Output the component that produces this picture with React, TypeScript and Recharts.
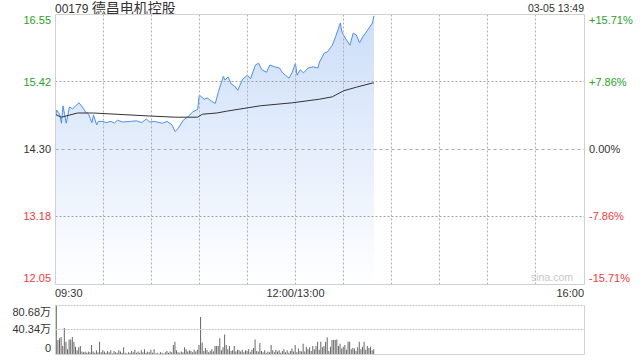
import { ComposedChart, Area, Line, Bar, XAxis, YAxis, ReferenceLine } from 'recharts'

const GREEN = '#27a327'
const RED = '#f23a3a'
const FONT = '"Liberation Sans", Arial, "Noto Sans CJK SC", sans-serif'

const prevClose = 14.3
const priceTicks = [12.05, 13.18, 14.3, 15.42, 16.55]
const pctLabels = ['-15.71%', '-7.86%', '0.00%', '+7.86%', '+15.71%']
const timeTicks = [0, 150, 330]
const timeLabels = ['09:30', '12:00/13:00', '16:00']
const gridMinutes = [30, 60, 90, 120, 150, 180, 210, 240, 270, 300]
const gridPrices = [13.18, 15.42]

// minute since open (lunch break removed) and last price
const priceMinutes = [0, 1, 3, 4, 5, 6, 7, 9, 11, 13, 15, 17, 19, 21, 23, 24, 26, 27, 30, 32, 35, 37, 39, 42, 47, 51, 54, 57, 59, 62, 67, 70, 73, 75, 77, 80, 83, 86, 89, 90, 93, 95, 98, 100, 102, 105, 106, 108, 110, 112, 114, 117, 120, 122, 125, 127, 129, 132, 134, 137, 140, 142, 146, 148, 150, 151, 153, 155, 158, 161, 164, 165, 168, 170, 173, 175, 178, 179, 181, 184, 186, 188, 190, 192, 195, 198, 199]
const prices = [14.78, 14.95, 14.87, 14.73, 15.02, 14.87, 14.73, 15.0, 14.97, 15.02, 15.07, 15.0, 14.92, 14.88, 14.74, 14.87, 14.7, 14.76, 14.76, 14.74, 14.76, 14.73, 14.78, 14.75, 14.76, 14.77, 14.74, 14.8, 14.75, 14.76, 14.73, 14.76, 14.7, 14.59, 14.65, 14.78, 14.84, 14.92, 14.96, 15.2, 15.13, 15.15, 15.09, 15.06, 15.26, 15.51, 15.45, 15.5, 15.38, 15.35, 15.28, 15.46, 15.53, 15.47, 15.7, 15.73, 15.62, 15.58, 15.7, 15.67, 15.65, 15.57, 15.48, 15.58, 15.73, 15.53, 15.62, 15.57, 15.65, 15.67, 15.65, 15.75, 15.9, 15.92, 16.03, 16.17, 16.4, 16.25, 16.15, 16.03, 16.23, 16.2, 16.07, 16.17, 16.28, 16.4, 16.52]

const avgMinutes = [0, 4, 14, 24, 59, 75, 89, 92, 101, 107, 128, 148, 165, 173, 180, 188, 198, 199]
const avgPrices = [14.88, 14.83, 14.9, 14.9, 14.85, 14.83, 14.83, 14.88, 14.9, 14.93, 15.02, 15.07, 15.13, 15.17, 15.27, 15.33, 15.4, 15.4]

// volume per minute, in 万
const volumes = [
  28, 80.68, 23, 26, 28, 13, 43, 20, 8, 24, 24, 28, 20, 12, 6, 11, 13, 4, 3, 4,
  2, 4, 3, 15, 4, 2, 6, 3, 20, 3, 6, 4, 2, 5, 3, 6, 1, 5, 3, 2,
  6, 4, 2, 11, 2, 1, 3, 2, 5, 3, 7, 2, 4, 2, 6, 3, 8, 2, 4, 3,
  7, 2, 8, 1, 2, 1, 3, 2, 1, 3, 5, 2, 4, 3, 15, 20, 6, 3, 2, 4,
  3, 11, 8, 4, 6, 5, 3, 7, 4, 7, 15, 61, 19, 5, 10, 6, 3, 5, 8, 4,
  13, 13, 13, 26, 6, 11, 32, 15, 8, 13, 5, 6, 13, 4, 7, 6, 4, 7, 3, 6,
  5, 8, 3, 7, 10, 24, 5, 4, 18, 5, 3, 6, 2, 4, 3, 15, 6, 3, 7, 4,
  6, 2, 5, 8, 3, 6, 2, 5, 9, 4, 15, 3, 9, 5, 4, 17, 4, 12, 8, 11,
  5, 13, 8, 13, 20, 7, 20, 11, 13, 20, 27, 5, 12, 23, 23, 23, 24, 13, 17, 9,
  12, 15, 7, 20, 20, 8, 10, 9, 5, 11, 20, 8, 12, 20, 7, 13, 10, 12, 6, 8,
]
const volTicks = [0, 40.34, 80.68]
const volLabels = ['0', '40.34万', '80.68万']

const priceData = priceMinutes.map((m, i) => ({ m, p: prices[i] }))
const avgData = avgMinutes.map((m, i) => ({ m, a: avgPrices[i] }))
const volData = volumes.map((v, m) => ({ m, v }))

const pMin = priceTicks[0]
const pMax = priceTicks[priceTicks.length - 1]
const vMax = volTicks[volTicks.length - 1]

function colorOf(v: number) {
  if (v > prevClose + 0.001) return GREEN
  if (v < prevClose - 0.001) return RED
  return '#333'
}

function edgeShift(v: number, lo: number, hi: number, up: number, down: number) {
  if (v === hi) return up
  if (v === lo) return down
  return 0
}

// snap reference lines onto the pixel grid so dotted lines stay sharp
const snap = (n: number) => Math.round(n - 0.5) + 0.5
function crisp(dash?: string, color = '#b0b0b0') {
  return (p: any) => (
    <line x1={snap(p.x1)} y1={snap(p.y1)} x2={snap(p.x2)} y2={snap(p.y2)} stroke={color} strokeWidth={1} strokeDasharray={dash} />
  )
}

function LeftTick(props: any) {
  const { x, y, payload } = props
  const v = payload.value
  return (
    <text x={x} y={y + edgeShift(v, pMin, pMax, 6, -6)} dy="0.35em" textAnchor="end" fill={colorOf(v)} fontSize={11} fontFamily={FONT}>
      {v.toFixed(2)}
    </text>
  )
}

function RightTick(props: any) {
  const { x, y, payload } = props
  const v = payload.value
  const label = pctLabels[priceTicks.indexOf(v)]
  return (
    <text x={x} y={y + edgeShift(v, pMin, pMax, 6, -6)} dy="0.35em" textAnchor="start" fill={colorOf(v)} fontSize={11} fontFamily={FONT}>
      {label}
    </text>
  )
}

function TimeTick(props: any) {
  const { x, y, payload } = props
  const i = timeTicks.indexOf(payload.value)
  const anchor = i === 0 ? 'start' : i === timeTicks.length - 1 ? 'end' : 'middle'
  return (
    <text x={x} y={y + 9} dy="0.35em" textAnchor={anchor} fill="#333" fontSize={11} fontFamily={FONT}>
      {timeLabels[i]}
    </text>
  )
}

function VolTick(props: any) {
  const { x, y, payload } = props
  const v = payload.value
  const label = volLabels[volTicks.indexOf(v)]
  return (
    <text x={x} y={y + edgeShift(v, 0, vMax, 7, -6)} dy="0.35em" textAnchor="end" fill="#333" fontSize={11} fontFamily={FONT}>
      {label}
    </text>
  )
}

export default function App() {
  return (
    <div style={{ position: 'absolute', left: 0, top: 0, width: 640, height: 360, background: '#fff', fontFamily: FONT }}>
      <div style={{ position: 'absolute', left: 55, top: 0, lineHeight: '16px', color: '#333', whiteSpace: 'nowrap' }}>
        <span style={{ fontSize: 12 }}>00179 </span>
        <span style={{ fontSize: 14 }}>德昌电机控股</span>
      </div>
      <div style={{ position: 'absolute', right: 56, top: 0, lineHeight: '16px', fontSize: 10.5, color: '#333' }}>03-05 13:49</div>
      <div style={{ position: 'absolute', right: 67, top: 270, lineHeight: '14px', fontSize: 10.5, color: '#c8c8c8' }}>sina.com</div>

      <div style={{ position: 'absolute', left: 0, top: 0 }}>
        <ComposedChart width={640} height={300} margin={{ top: 14, right: 0, bottom: 0, left: 0 }}>
          <defs>
            <linearGradient id="priceFill" x1="0" y1="0" x2="0" y2="1">
              <stop offset="0%" stopColor="#c6daf8" />
              <stop offset="100%" stopColor="#ffffff" />
            </linearGradient>
          </defs>
          <XAxis dataKey="m" type="number" domain={[0, 330]} ticks={timeTicks} interval={0} tick={<TimeTick />} axisLine={false} tickLine={false} tickSize={0} tickMargin={0} height={16} allowDataOverflow />
          <YAxis yAxisId="left" domain={[pMin, pMax]} ticks={priceTicks} interval={0} tick={<LeftTick />} axisLine={false} tickLine={false} tickSize={0} tickMargin={4} width={55} allowDataOverflow />
          <YAxis yAxisId="right" orientation="right" domain={[pMin, pMax]} ticks={priceTicks} interval={0} tick={<RightTick />} axisLine={false} tickLine={false} tickSize={0} tickMargin={5} width={56} allowDataOverflow />
          <Area yAxisId="left" data={priceData} dataKey="p" type="linear" stroke="#4c8ef6" strokeWidth={1} fill="url(#priceFill)" fillOpacity={0.9} dot={false} activeDot={false} isAnimationActive={false} />
          {gridMinutes.map((m) => (
            <ReferenceLine key={'x' + m} yAxisId="left" x={m} shape={crisp('2 2')} />
          ))}
          <ReferenceLine yAxisId="left" y={gridPrices[0]} shape={crisp('2 2', '#a0a0a0')} />
          <ReferenceLine yAxisId="left" y={gridPrices[1]} shape={crisp('2 2', '#a0a0a0')} />
          <ReferenceLine yAxisId="left" y={prevClose} shape={crisp('3 3', '#a8a8a8')} />
          <Line yAxisId="left" data={avgData} dataKey="a" type="linear" stroke="#333" strokeWidth={1} dot={false} activeDot={false} isAnimationActive={false} />
          <ReferenceLine yAxisId="left" x={0} shape={crisp(undefined, '#d0d0d0')} />
          <ReferenceLine yAxisId="left" x={330} shape={crisp(undefined, '#d0d0d0')} />
          <ReferenceLine yAxisId="left" y={pMax} shape={crisp(undefined, '#d0d0d0')} />
          <ReferenceLine yAxisId="left" y={pMin} shape={crisp(undefined, '#d0d0d0')} />
        </ComposedChart>
      </div>

      <div style={{ position: 'absolute', left: 0, top: 300 }}>
        <ComposedChart width={640} height={60} data={volData} margin={{ top: 5, right: 56, bottom: 6, left: 0 }}>
          <XAxis dataKey="m" type="number" domain={[0, 330]} hide allowDataOverflow />
          <YAxis domain={[0, vMax]} ticks={volTicks} interval={0} tick={<VolTick />} axisLine={false} tickLine={false} tickSize={0} tickMargin={4} width={55} allowDataOverflow />
          <ReferenceLine y={vMax} shape={crisp('2 1', '#c4c4c4')} />
          <ReferenceLine y={40.34} shape={crisp('2 1', '#c4c4c4')} />
          <Bar dataKey="v" fill="#666" barSize={1} isAnimationActive={false} />
          <ReferenceLine x={0} shape={crisp(undefined, '#d0d0d0')} />
          <ReferenceLine x={330} shape={crisp(undefined, '#d0d0d0')} />
          <ReferenceLine y={0} shape={crisp(undefined, '#d0d0d0')} />
        </ComposedChart>
      </div>
    </div>
  )
}
